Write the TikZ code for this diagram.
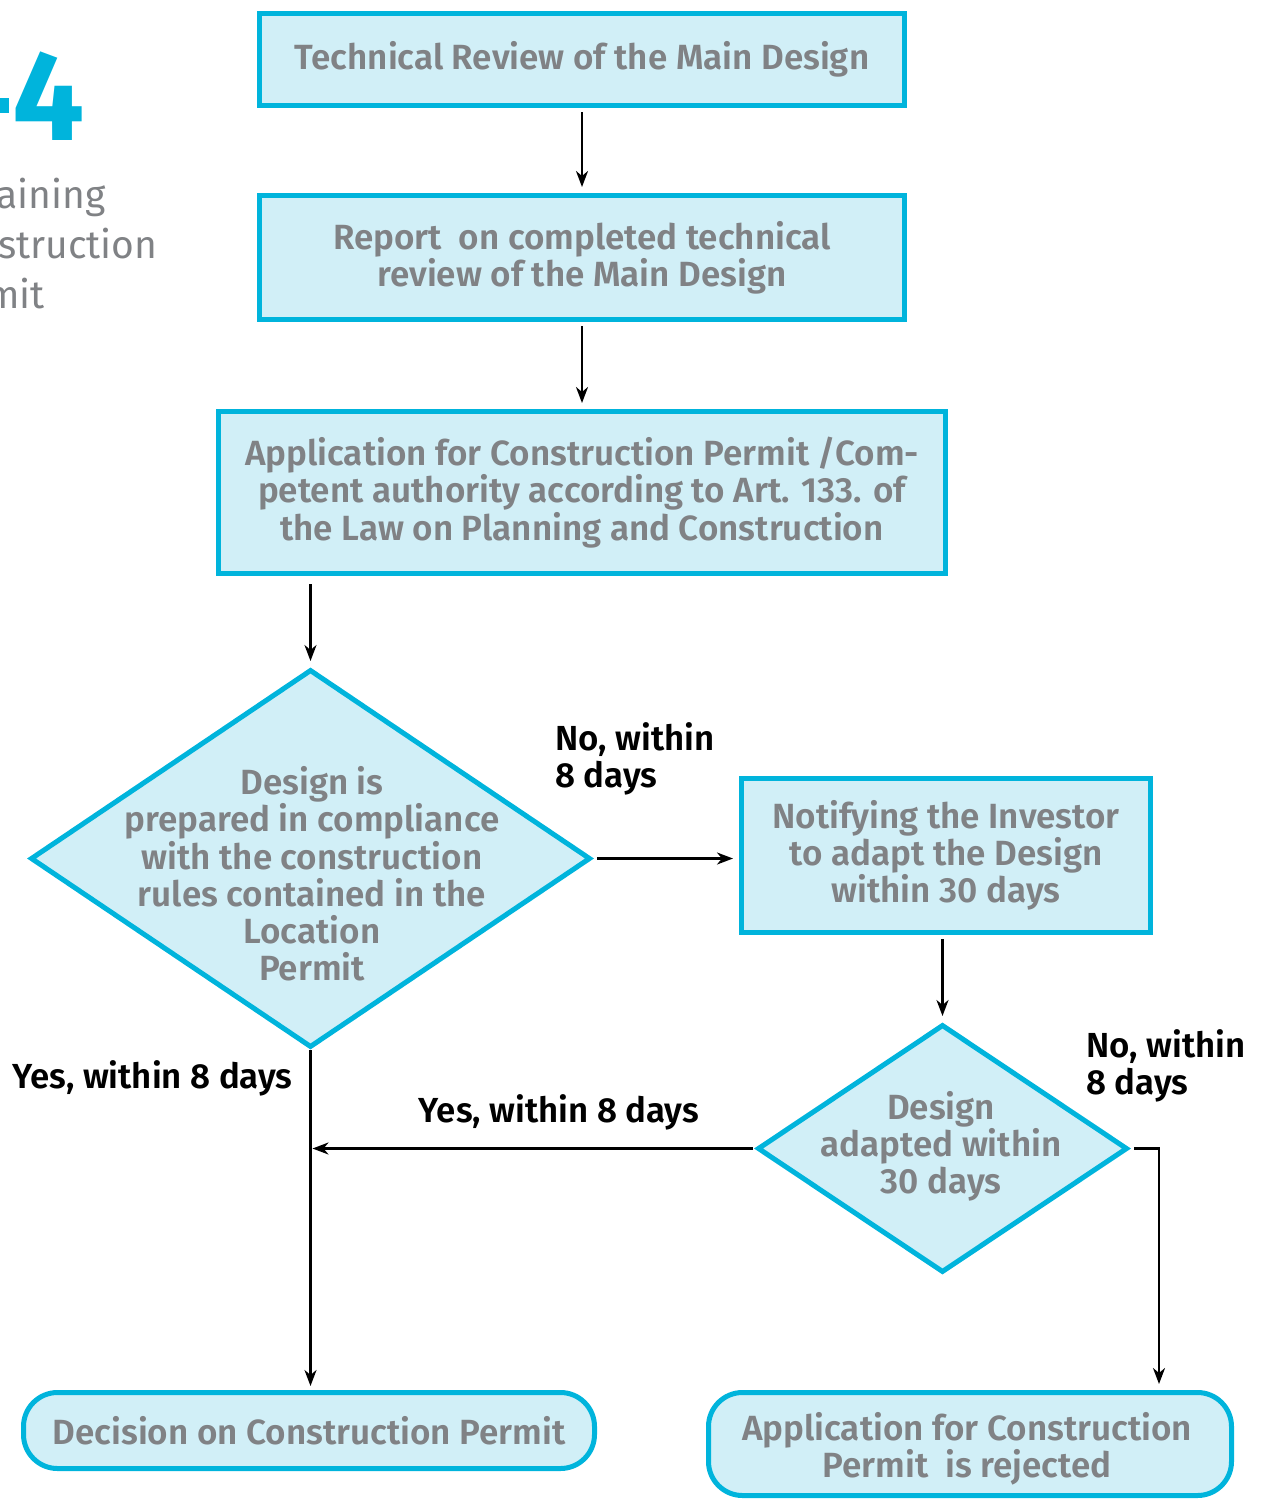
\documentclass[tikz,border=0pt]{standalone}
\usepackage{fontspec}
\setmainfont{Fira Sans}
\newfontfamily\semib{Fira Sans SemiBold}
\usetikzlibrary{shapes.geometric,arrows.meta}
\definecolor{cy}{HTML}{00B4DC}
\definecolor{cyfill}{HTML}{D1EFF7}
\definecolor{txtgrey}{HTML}{808285}
\begin{document}
\begin{tikzpicture}[x=0.5pt,y=-0.5pt,
  every node/.style={inner sep=0pt},
  boxtext/.style={font=\semib\fontsize{17.5}{18.6}\selectfont, text=txtgrey, align=center},
  stepbox/.style={rectangle, draw=cy, fill=cyfill, line width=2.5pt, boxtext},
  endbox/.style={rectangle, rounded corners=17pt, draw=cy, fill=cyfill, line width=2.5pt, boxtext},
  decision/.style={diamond, draw=cy, fill=cyfill, line width=2.5pt},
  lbl/.style={font=\semib\fontsize{17.4}{18.8}\selectfont, text=black, align=left},
  sidetext/.style={anchor=base east, text=txtgrey, font=\fontsize{19.5}{25}\selectfont},
  arr/.style={-{Stealth[length=8pt,width=6pt,inset=2.5pt]}, line width=1.2pt, black},
]
\useasboundingbox (0,0) rectangle (1266,1500);
\clip (0,0) rectangle (1266,1500);

% chapter number and title on the left edge
\fill[cy] (0,98) rectangle (9,113);
\node[anchor=base east, text=cy, font=\bfseries\fontsize{64}{64}\selectfont] (num) at (85,140) {4};
\node[sidetext] (t1) at (106,208) {aining};
\node[sidetext] (t2) at (158,258) {struction};
\node[sidetext] (t3) at (45,308) {mit};

% process boxes
\node[stepbox, minimum width=322.5pt, minimum height=46pt] (b1) at (582,59.5)
  {Technical Review of the Main Design};
\node[stepbox, minimum width=322.5pt, minimum height=62pt] (b2) at (582,257.5)
  {Report\ \ on completed technical\\review of the Main Design};
\node[stepbox, minimum width=363.5pt, minimum height=81pt] (b3) at (582,492.5)
  {Application for Construction Permit /Com-\\petent authority according to Art. 133. of\\the Law on Planning and Construction};
\node[stepbox, minimum width=204.5pt, minimum height=77pt] (b4) at (946,855.5)
  {Notifying the Investor\\to adapt the Design\\within 30 days};

% decisions
\node[decision, minimum width=280pt, minimum height=189pt] (d1) at (310.5,858.5) {};
\node[boxtext] (d1t) at (312,874)
  {Design is\\prepared in compliance\\with the construction\\rules contained in the\\Location\\Permit};
\node[decision, minimum width=185pt, minimum height=124pt] (d2) at (942.5,1148.5) {};
\node[boxtext] (d2t) at (941,1146.5) {Design\\adapted within\\30 days};

% outcomes
\node[endbox, minimum width=285.5pt, minimum height=38pt] (e1) at (309,1430.5)
  {Decision on Construction Permit};
\node[endbox, minimum width=261.5pt, minimum height=51.5pt] (e2) at (970,1444) {};
\node[boxtext] (e2t) at (967,1449) {Application for Construction\\Permit\ \ is rejected};

% connectors
\draw[arr, shorten <=2pt, shorten >=3pt] (b1.south) -- (b2.north);
\draw[arr, shorten <=2pt, shorten >=3pt] (b2.south) -- (b3.north);
\draw[arr, shorten <=4pt, shorten >=3pt] (b3.south -| d1.north) -- (d1.north);
\draw[arr, shorten <=2pt, shorten >=3pt] (d1.east) -- (d1.east -| b4.west);
\draw[arr, shorten <=2pt, shorten >=3pt] (b4.south -| d2.north) -- (d2.north);
\draw[arr, shorten <=1pt, shorten >=1pt] (d2.west) -- (d2.west -| d1.south);
\draw[arr, shorten >=2pt] (d1.south) -- (e1.north -| d1.south);
\coordinate (k) at (1159,1148.5);
\draw[arr, shorten <=2pt, shorten >=3pt] (d2.east) -- (k) -- (k |- e2.north);

% branch labels
\node[lbl, anchor=west] (no1) at (555,759) {No, within\\8 days};
\node[lbl, anchor=west] (no2) at (1086,1066) {No, within\\8 days};
\node[lbl] (yes1) at (152.5,1078) {Yes, within 8 days};
\node[lbl] (yes2) at (559,1112) {Yes, within 8 days};
\end{tikzpicture}
\end{document}
